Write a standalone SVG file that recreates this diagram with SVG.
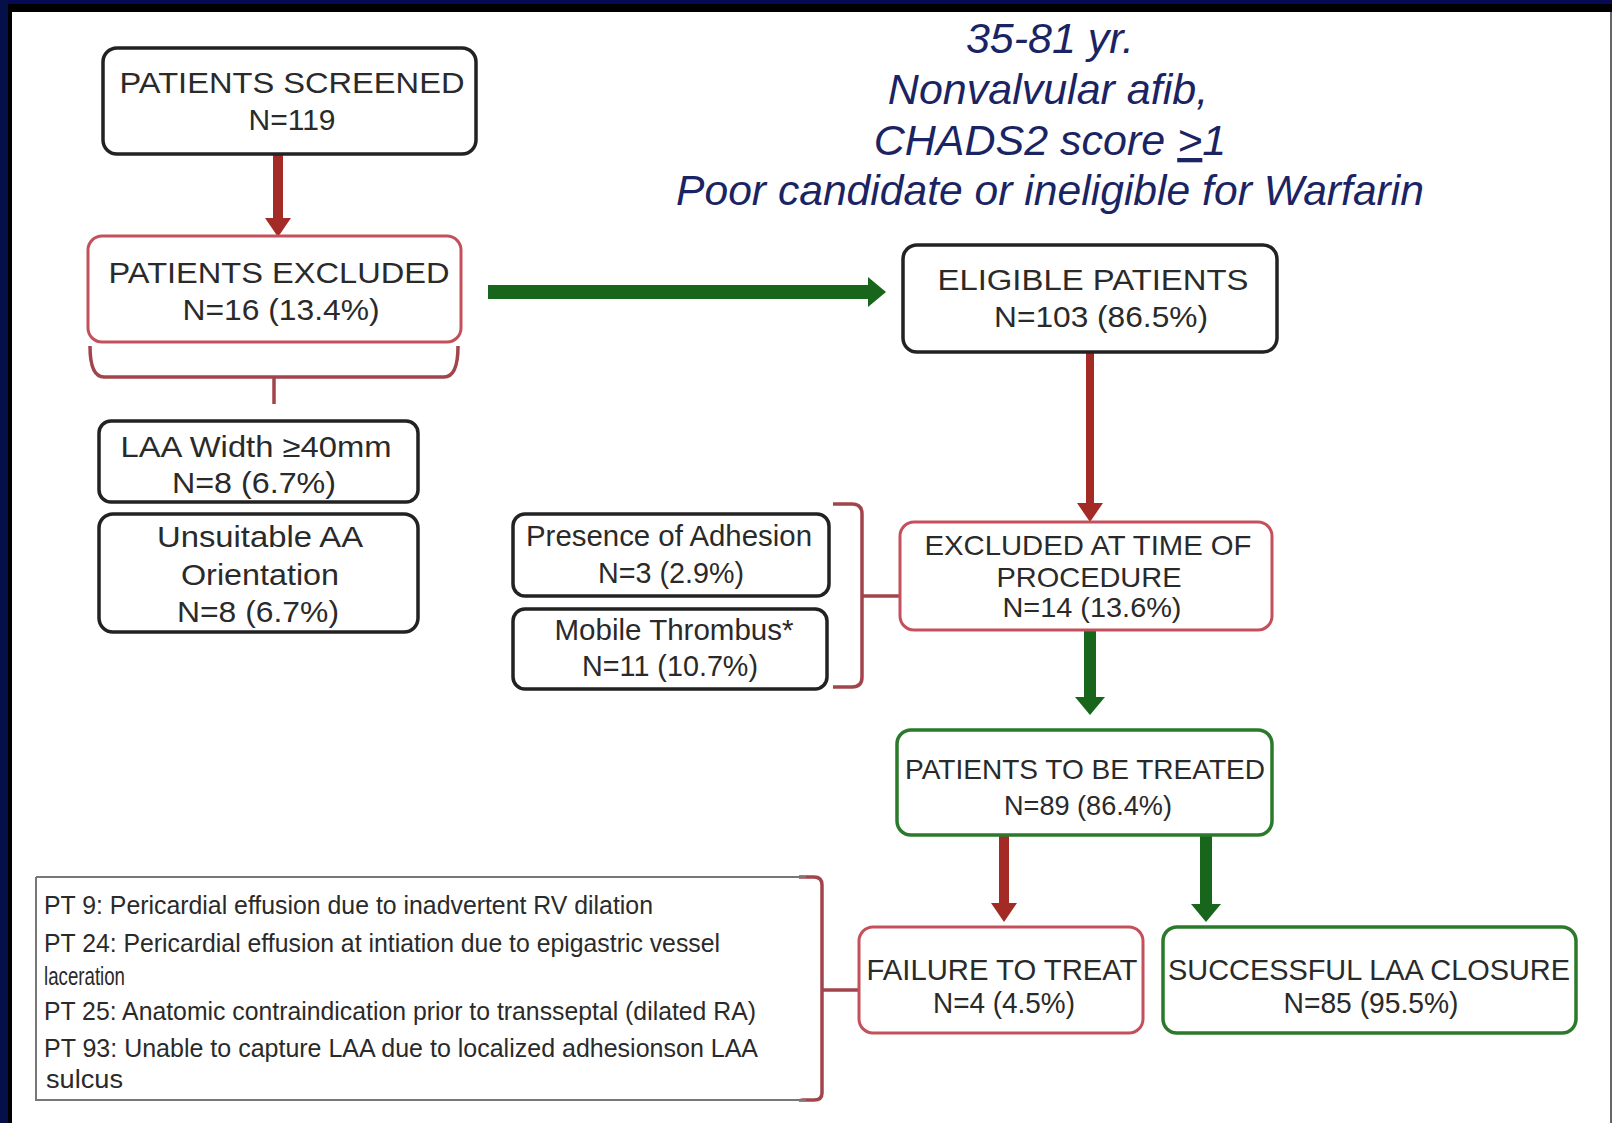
<svg xmlns="http://www.w3.org/2000/svg" width="1612" height="1123" viewBox="0 0 1612 1123">
<defs>
<style>
.t{font-family:"Liberation Sans",Arial,sans-serif;fill:#2a2a2a;text-anchor:middle}
.b{font-size:30px}
.s{font-size:28px}
.n{font-family:"Liberation Sans",Arial,sans-serif;fill:#2a2a2a;font-size:25px}
.title{font-family:"Liberation Sans",Arial,sans-serif;font-style:italic;font-size:43px;fill:#1b2462;text-anchor:middle}
.bk{fill:#fff;stroke:#222;stroke-width:3.5}
.rd{fill:#fff;stroke:#c4505c;stroke-width:3}
.gn{fill:#fff;stroke:#2b7a2b;stroke-width:3.5}
.gy{fill:#fff;stroke:#777;stroke-width:2}
.br{fill:none;stroke:#a2444c;stroke-width:3.5;stroke-linejoin:round}
.ra{stroke:#a42a26;fill:none}
.ga{stroke:#18661b;fill:none}
</style>
<marker id="hr" markerUnits="userSpaceOnUse" markerWidth="20" markerHeight="30" viewBox="0 0 20 30" refX="0" refY="15" orient="auto"><path d="M0,2 L19,15 L0,28 z" fill="#a42a26"/></marker>
<marker id="hg" markerUnits="userSpaceOnUse" markerWidth="20" markerHeight="32" viewBox="0 0 20 32" refX="0" refY="16" orient="auto"><path d="M0,1 L18,16 L0,31 z" fill="#18661b"/></marker>
</defs>
<rect x="0" y="0" width="1612" height="1123" fill="#000"/>
<rect x="0" y="0" width="1612" height="4" fill="#060a55"/>
<rect x="0" y="0" width="8" height="1123" fill="#061048"/>
<rect x="12" y="12" width="1598" height="1111" fill="#fff"/>
<rect x="1610" y="12" width="2" height="1111" fill="#666"/>

<g id="criteria">
<text class="title" x="1050" y="53">35-81 yr.</text>
<text class="title" x="1048" y="104">Nonvalvular afib,</text>
<text class="title" x="1050" y="155">CHADS2 score <tspan text-decoration="underline">&gt;</tspan>1</text>
<text class="title" x="1050" y="205" textLength="748" lengthAdjust="spacingAndGlyphs">Poor candidate or ineligible for Warfarin</text>
</g>

<g id="connectors">
<line class="ra" x1="278" y1="154" x2="278" y2="218" stroke-width="10" marker-end="url(#hr)"/>
<line class="ga" x1="488" y1="292" x2="868" y2="292" stroke-width="14" marker-end="url(#hg)"/>
<line class="ra" x1="1090" y1="352" x2="1090" y2="503" stroke-width="8" marker-end="url(#hr)"/>
<line class="ga" x1="1090" y1="630" x2="1090" y2="697" stroke-width="12" marker-end="url(#hg)"/>
<line class="ra" x1="1004" y1="836" x2="1004" y2="903" stroke-width="10" marker-end="url(#hr)"/>
<line class="ga" x1="1206" y1="836" x2="1206" y2="904" stroke-width="12" marker-end="url(#hg)"/>
<path class="br" d="M90,346 Q90,377 104,377 L444,377 Q458,377 458,346 M274,377 L274,404"/>
<path class="br" d="M833,504 L852,504 Q862,504 862,514 L862,677 Q862,687 852,687 L833,687 M862,596 L900,596"/>
<path class="br" d="M799,877 L814,877 Q822,877 822,885 L822,1093 Q822,1100 814,1100 L799,1100 M822,990 L859,990"/>
</g>

<g id="screened">
<rect class="bk" x="103" y="48" width="373" height="106" rx="14"/>
<text class="t b" x="292" y="93" textLength="345" lengthAdjust="spacingAndGlyphs">PATIENTS SCREENED</text>
<text class="t b" x="292" y="130">N=119</text>
</g>

<g id="excluded">
<rect class="rd" x="88" y="236" width="373" height="106" rx="14"/>
<text class="t b" x="279" y="283" textLength="341" lengthAdjust="spacingAndGlyphs">PATIENTS EXCLUDED</text>
<text class="t b" x="281" y="320" textLength="197" lengthAdjust="spacingAndGlyphs">N=16 (13.4%)</text>
</g>

<g id="laa-width">
<rect class="bk" x="99" y="421" width="319" height="81" rx="12" stroke-width="2.5"/>
<text class="t b" x="256" y="457" textLength="271" lengthAdjust="spacingAndGlyphs">LAA Width ≥40mm</text>
<text class="t b" x="254" y="493" textLength="164" lengthAdjust="spacingAndGlyphs">N=8 (6.7%)</text>
</g>

<g id="unsuitable">
<rect class="bk" x="99" y="514" width="319" height="118" rx="14" stroke-width="2.5"/>
<text class="t b" x="260" y="547" textLength="206" lengthAdjust="spacingAndGlyphs">Unsuitable AA</text>
<text class="t b" x="260" y="585" textLength="158" lengthAdjust="spacingAndGlyphs">Orientation</text>
<text class="t b" x="258" y="622" textLength="162" lengthAdjust="spacingAndGlyphs">N=8 (6.7%)</text>
</g>

<g id="eligible">
<rect class="bk" x="903" y="245" width="374" height="107" rx="14"/>
<text class="t b" x="1093" y="290" textLength="311" lengthAdjust="spacingAndGlyphs">ELIGIBLE PATIENTS</text>
<text class="t b" x="1101" y="327" textLength="214" lengthAdjust="spacingAndGlyphs">N=103 (86.5%)</text>
</g>

<g id="adhesion">
<rect class="bk" x="513" y="514" width="316" height="82" rx="12" stroke-width="2.5"/>
<text class="t b" x="669" y="546" textLength="286" lengthAdjust="spacingAndGlyphs">Presence of Adhesion</text>
<text class="t b" x="671" y="583" textLength="146" lengthAdjust="spacingAndGlyphs">N=3 (2.9%)</text>
</g>

<g id="thrombus">
<rect class="bk" x="513" y="609" width="314" height="80" rx="12" stroke-width="2.5"/>
<text class="t b" x="674" y="640" textLength="239" lengthAdjust="spacingAndGlyphs">Mobile Thrombus*</text>
<text class="t b" x="670" y="676" textLength="176" lengthAdjust="spacingAndGlyphs">N=11 (10.7%)</text>
</g>

<g id="excluded-procedure">
<rect class="rd" x="900" y="522" width="372" height="108" rx="14"/>
<text class="t s" x="1088" y="555" textLength="327" lengthAdjust="spacingAndGlyphs">EXCLUDED AT TIME OF</text>
<text class="t s" x="1089" y="587" textLength="185" lengthAdjust="spacingAndGlyphs">PROCEDURE</text>
<text class="t s" x="1092" y="617" textLength="179" lengthAdjust="spacingAndGlyphs">N=14 (13.6%)</text>
</g>

<g id="to-be-treated">
<rect class="gn" x="897" y="730" width="375" height="105" rx="14"/>
<text class="t s" x="1085" y="779" textLength="360" lengthAdjust="spacingAndGlyphs">PATIENTS TO BE TREATED</text>
<text class="t s" x="1088" y="815" textLength="168" lengthAdjust="spacingAndGlyphs">N=89 (86.4%)</text>
</g>

<g id="failure">
<rect class="rd" x="859" y="927" width="284" height="106" rx="14"/>
<text class="t b" x="1002" y="980" textLength="271" lengthAdjust="spacingAndGlyphs">FAILURE TO TREAT</text>
<text class="t b" x="1004" y="1013" textLength="142" lengthAdjust="spacingAndGlyphs">N=4 (4.5%)</text>
</g>

<g id="success">
<rect class="gn" x="1163" y="927" width="413" height="106" rx="14"/>
<text class="t b" x="1369" y="980" textLength="402" lengthAdjust="spacingAndGlyphs">SUCCESSFUL LAA CLOSURE</text>
<text class="t b" x="1371" y="1013" textLength="175" lengthAdjust="spacingAndGlyphs">N=85 (95.5%)</text>
</g>

<g id="failure-notes">
<path class="gy" d="M36,877 L806,877 M36,877 L36,1100 L806,1100" fill="none"/>
<text class="n" x="44" y="914" textLength="609" lengthAdjust="spacingAndGlyphs">PT 9: Pericardial effusion due to inadvertent RV dilation</text>
<text class="n" x="44" y="952" textLength="676" lengthAdjust="spacingAndGlyphs">PT 24: Pericardial effusion at intiation due to epigastric vessel</text>
<text class="n" x="44" y="985" textLength="81" lengthAdjust="spacingAndGlyphs">laceration</text>
<text class="n" x="44" y="1020" textLength="712" lengthAdjust="spacingAndGlyphs">PT 25: Anatomic contraindication prior to transseptal (dilated RA)</text>
<text class="n" x="44" y="1057" textLength="714" lengthAdjust="spacingAndGlyphs">PT 93: Unable to capture LAA due to localized adhesionson LAA</text>
<text class="n" x="46" y="1088" textLength="77" lengthAdjust="spacingAndGlyphs">sulcus</text>
</g>
</svg>
